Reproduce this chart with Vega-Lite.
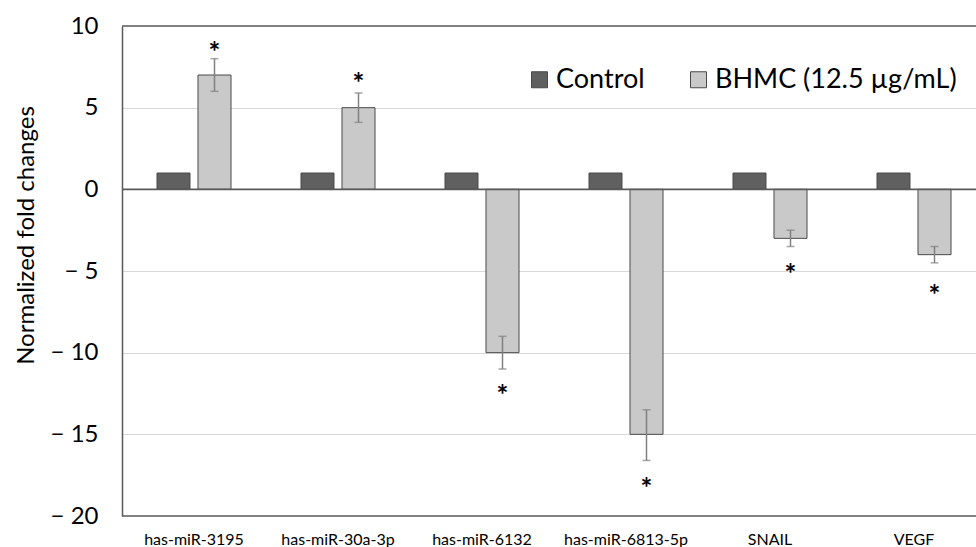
{
  "$schema": "https://vega.github.io/schema/vega-lite/v6.json",
  "autosize": {"type": "none"},
  "width": 854,
  "height": 490,
  "padding": {"left": 122, "top": 26, "right": 0, "bottom": 31},
  "background": "white",
  "config": {
    "view": {"stroke": null},
    "font": "Lato",
    "text": {"font": "Lato"}
  },
  "datasets": {
    "main": [
      {"gene": "has-miR-3195", "group": "Control", "value": 1},
      {"gene": "has-miR-30a-3p", "group": "Control", "value": 1},
      {"gene": "has-miR-6132", "group": "Control", "value": 1},
      {"gene": "has-miR-6813-5p", "group": "Control", "value": 1},
      {"gene": "SNAIL", "group": "Control", "value": 1},
      {"gene": "VEGF", "group": "Control", "value": 1},
      {"gene": "has-miR-3195", "group": "BHMC (12.5 µg/mL)", "value": 7, "lo": 6, "hi": 8, "star": 8.75},
      {"gene": "has-miR-30a-3p", "group": "BHMC (12.5 µg/mL)", "value": 5, "lo": 4.1, "hi": 5.9, "star": 6.9},
      {"gene": "has-miR-6132", "group": "BHMC (12.5 µg/mL)", "value": -10, "lo": -11, "hi": -9, "star": -12.2},
      {"gene": "has-miR-6813-5p", "group": "BHMC (12.5 µg/mL)", "value": -15, "lo": -16.6, "hi": -13.5, "star": -17.9},
      {"gene": "SNAIL", "group": "BHMC (12.5 µg/mL)", "value": -3, "lo": -3.5, "hi": -2.5, "star": -4.8},
      {"gene": "VEGF", "group": "BHMC (12.5 µg/mL)", "value": -4, "lo": -4.5, "hi": -3.5, "star": -6.1}
    ],
    "one": [{"k": 1}]
  },
  "data": {"name": "main"},
  "layer": [
    {
      "mark": {"type": "bar", "stroke": "#4a4a4a", "strokeWidth": 1},
      "encoding": {
        "x": {
          "field": "gene", "type": "nominal",
          "scale": {"domain": ["has-miR-3195", "has-miR-30a-3p", "has-miR-6132", "has-miR-6813-5p", "SNAIL", "VEGF"], "range": [0, 864], "paddingInner": 0.486, "paddingOuter": 0.243},
          "axis": {"orient": "bottom", "title": null, "domain": false, "ticks": false, "grid": false, "labelAngle": 0, "labelFontSize": 16, "labelPadding": 15, "labelColor": "#000", "labelFont": "Lato"}
        },
        "xOffset": {
          "field": "group", "type": "nominal",
          "scale": {"domain": ["Control", "BHMC (12.5 µg/mL)"], "paddingInner": 0.195, "paddingOuter": 0}
        },
        "y": {
          "field": "value", "type": "quantitative",
          "scale": {"domain": [-20, 10], "nice": false, "zero": false},
          "axis": {
            "values": [-20, -15, -10, -5, 0, 5, 10],
            "labelExpr": "datum.value < 0 ? '\u2212 ' + (-datum.value) : datum.label",
            "labelFontSize": 24, "labelColor": "#000", "labelPadding": 24, "labelFont": "Lato",
            "ticks": false, "domainColor": "#595959", "domainWidth": 1.5,
            "grid": true, "gridColor": "#d9d9d9", "gridWidth": 1.2,
            "gridOpacity": {"condition": {"test": "datum.value == 10 || datum.value == -20 || datum.value == 0", "value": 0}, "value": 1},
            "title": "Normalized fold changes", "titleFontSize": 24, "titleFontWeight": "normal", "titleFont": "Lato", "titleColor": "#000",
            "titleAngle": -90, "titleX": -96, "titleY": 209, "titleAlign": "center", "titleBaseline": "middle"
          }
        },
        "color": {
          "field": "group", "type": "nominal",
          "scale": {"domain": ["Control", "BHMC (12.5 µg/mL)"], "range": ["#606060", "#c9c9c9"]},
          "legend": {
            "orient": "none", "legendX": 404, "legendY": 40, "direction": "horizontal", "title": null,
            "labelFontSize": 27, "labelFont": "Lato", "labelColor": "#000", "labelLimit": 400, "symbolType": "square", "symbolSize": 256,
            "symbolStrokeColor": "#4a4a4a", "symbolStrokeWidth": 1, "symbolOpacity": 1, "columnPadding": 40, "labelOffset": 3
          }
        }
      }
    },
    {
      "transform": [{"filter": "datum.lo != null"}],
      "mark": {"type": "rule", "color": "#808080", "strokeWidth": 1.5},
      "encoding": {
        "x": {"field": "gene", "type": "nominal"},
        "xOffset": {"field": "group", "type": "nominal"},
        "y": {"field": "lo", "type": "quantitative"},
        "y2": {"field": "hi"}
      }
    },
    {
      "transform": [{"filter": "datum.lo != null"}],
      "mark": {"type": "tick", "color": "#808080", "thickness": 1.5, "size": 8, "orient": "horizontal"},
      "encoding": {
        "x": {"field": "gene", "type": "nominal"},
        "xOffset": {"field": "group", "type": "nominal"},
        "y": {"field": "lo", "type": "quantitative"}
      }
    },
    {
      "transform": [{"filter": "datum.lo != null"}],
      "mark": {"type": "tick", "color": "#808080", "thickness": 1.5, "size": 8, "orient": "horizontal"},
      "encoding": {
        "x": {"field": "gene", "type": "nominal"},
        "xOffset": {"field": "group", "type": "nominal"},
        "y": {"field": "hi", "type": "quantitative"}
      }
    },
    {
      "transform": [{"filter": "datum.star != null"}],
      "mark": {"type": "text", "text": "*", "fontSize": 28, "fontWeight": "bold", "color": "#000", "baseline": "middle", "align": "center", "dy": 8},
      "encoding": {
        "x": {"field": "gene", "type": "nominal"},
        "xOffset": {"field": "group", "type": "nominal"},
        "y": {"field": "star", "type": "quantitative"}
      }
    },
    {
      "data": {"name": "one"},
      "mark": {"type": "rule", "color": "#595959", "strokeWidth": 1.8},
      "encoding": {"y": {"datum": 0}}
    },
    {
      "data": {"name": "one"},
      "mark": {"type": "rule", "color": "#595959", "strokeWidth": 1.5},
      "encoding": {"y": {"datum": 10}}
    },
    {
      "data": {"name": "one"},
      "mark": {"type": "rule", "color": "#595959", "strokeWidth": 1.5},
      "encoding": {"y": {"datum": -20}}
    }
  ]
}
